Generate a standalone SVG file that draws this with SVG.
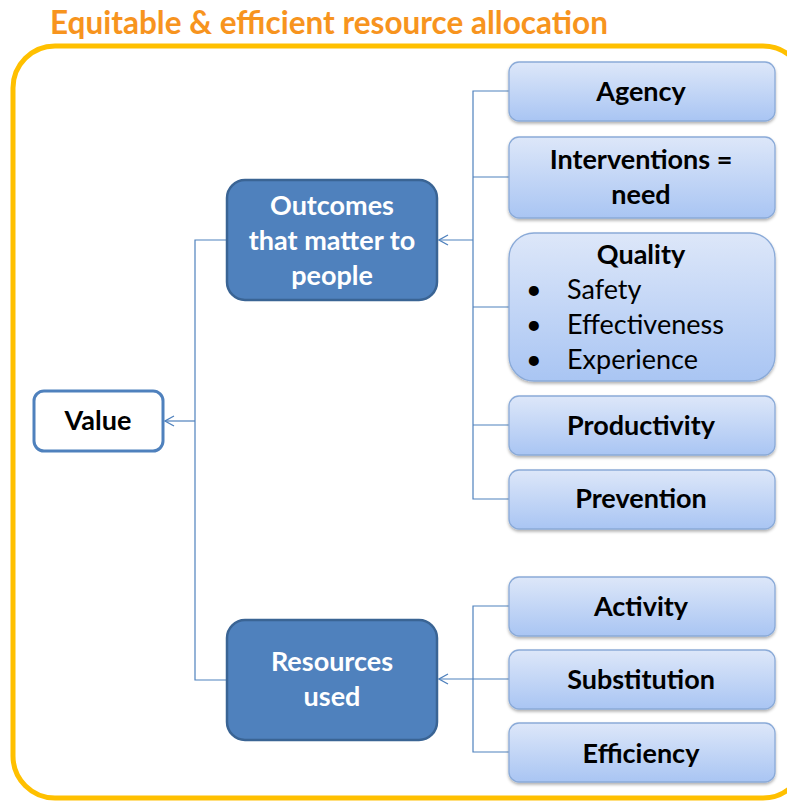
<svg xmlns="http://www.w3.org/2000/svg" width="787" height="803" viewBox="0 0 787 803">
<style>
.title{font-family:Lato,"Open Sans",sans-serif;font-weight:bold;font-size:33px;fill:#F7941E}
.frame{fill:none;stroke:#FFC000;stroke-width:5}
.dark{fill:#4F81BD;stroke:#3A6494;stroke-width:2.5}
.dt{font-family:Lato,"Open Sans",sans-serif;font-weight:bold;font-size:27px;fill:#fff;text-anchor:middle}
.val{fill:#fff;stroke:#4F81BD;stroke-width:3}
.lt{fill:url(#lg);stroke:#8AAAD8;stroke-width:1.3;filter:url(#sh)}
.bt{font-family:Lato,"Open Sans",sans-serif;font-weight:bold;font-size:27px;fill:#000;text-anchor:middle}
.nt{font-family:Lato,"Open Sans",sans-serif;font-size:27px;fill:#000}
.conn{fill:none;stroke:#4F81BD;stroke-width:1.2}
</style>
<defs>
<linearGradient id="lg" x1="0" y1="0" x2="0" y2="1">
<stop offset="0" stop-color="#DDE7F9"/>
<stop offset="1" stop-color="#A9C5F3"/>
</linearGradient>
<filter id="sh" x="-10%" y="-10%" width="120%" height="130%">
<feDropShadow dx="0" dy="2" stdDeviation="1.5" flood-color="#000" flood-opacity="0.3"/>
</filter>
<marker id="ar" viewBox="0 0 12 12" refX="11" refY="6" markerWidth="12" markerHeight="12" markerUnits="userSpaceOnUse" orient="auto">
<path d="M2,1 L11,6 L2,11" fill="none" stroke="#4F81BD" stroke-width="1.3"/>
</marker>
</defs>
<rect width="787" height="803" fill="#fff"/>
<text class="title" x="50" y="34" textLength="558" lengthAdjust="spacingAndGlyphs">Equitable &amp; efficient resource allocation</text>
<rect class="frame" x="13" y="46" width="792" height="752" rx="42"/>
<g id="connectors">
<path class="conn" d="M509,91 H473 V499 H509 M473,177 H509 M473,307 H509 M473,425 H509"/>
<path class="conn" d="M473,240 H439" marker-end="url(#ar)"/>
<path class="conn" d="M509,606 H473 V752 H509 M473,679 H509"/>
<path class="conn" d="M473,679 H439" marker-end="url(#ar)"/>
<path class="conn" d="M227,240 H195 V680 H227"/>
<path class="conn" d="M195,421 H165" marker-end="url(#ar)"/>
</g>
<g id="value"><rect class="val" x="34" y="391" width="129" height="60" rx="10"/><text class="bt" x="98" y="430">Value</text></g>
<g id="outcomes"><rect class="dark" x="227" y="180" width="210" height="120" rx="18"/>
<text class="dt" x="332" y="215">Outcomes</text><text class="dt" x="332" y="250">that matter to</text><text class="dt" x="332" y="285">people</text></g>
<g id="resources"><rect class="dark" x="227" y="620" width="210" height="120" rx="18"/>
<text class="dt" x="332" y="671">Resources</text><text class="dt" x="332" y="706">used</text></g>
<g id="agency"><rect class="lt" x="509" y="62" width="266" height="59" rx="10"/><text class="bt" x="641" y="101">Agency</text></g>
<g id="interventions"><rect class="lt" x="509" y="137" width="266" height="81" rx="10"/><text class="bt" x="641" y="169">Interventions =</text><text class="bt" x="641" y="204">need</text></g>
<g id="quality"><rect class="lt" x="509" y="233" width="266" height="148" rx="25"/><text class="bt" x="641" y="264">Quality</text>
<text class="nt" x="526" y="299">•</text><text class="nt" x="567" y="299">Safety</text>
<text class="nt" x="526" y="334">•</text><text class="nt" x="567" y="334">Effectiveness</text>
<text class="nt" x="526" y="369">•</text><text class="nt" x="567" y="369">Experience</text></g>
<g id="productivity"><rect class="lt" x="509" y="396" width="266" height="59" rx="10"/><text class="bt" x="641" y="435">Productivity</text></g>
<g id="prevention"><rect class="lt" x="509" y="470" width="266" height="59" rx="10"/><text class="bt" x="641" y="508">Prevention</text></g>
<g id="activity"><rect class="lt" x="509" y="577" width="266" height="59" rx="10"/><text class="bt" x="641" y="616">Activity</text></g>
<g id="substitution"><rect class="lt" x="509" y="650" width="266" height="59" rx="10"/><text class="bt" x="641" y="689">Substitution</text></g>
<g id="efficiency"><rect class="lt" x="509" y="723" width="266" height="59" rx="10"/><text class="bt" x="641" y="763">Efficiency</text></g>
</svg>
